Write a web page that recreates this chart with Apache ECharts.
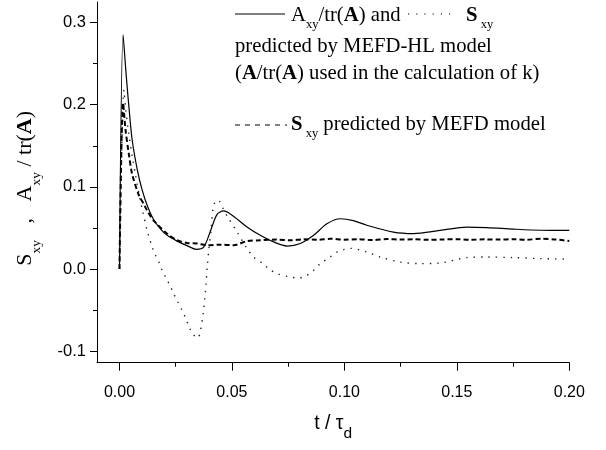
<!DOCTYPE html>
<html>
<head>
<meta charset="utf-8">
<title>Sxy MEFD</title>
<script src="https://cdn.jsdelivr.net/npm/echarts@6.0.0/dist/echarts.min.js"></script>
<style>
body{margin:0;background:#fff;}
#GraficoSxy{width:606px;height:450px;}
</style>
</head>
<body>
<div id="GraficoSxy"></div>
<script>
// A_xy/tr(A), MEFD-HL (linea continua)
var tiempoA = [0, 0.0016, 0.0027, 0.0034, 0.0041, 0.0056, 0.0079, 0.0100, 0.0125, 0.0152, 0.0185, 0.0212, 0.0256, 0.0300, 0.0342, 0.0375, 0.0404, 0.0434, 0.0463, 0.0508, 0.0567, 0.0626, 0.0685, 0.0745, 0.0804, 0.0863, 0.0922, 0.0981, 0.1040, 0.1100, 0.1218, 0.1307, 0.1425, 0.1544, 0.1633, 0.1751, 0.1870, 0.2000];
var valorA = [0, 0.285, 0.246, 0.222, 0.200, 0.158, 0.121, 0.097, 0.076, 0.060, 0.048, 0.041, 0.034, 0.0285, 0.0240, 0.027, 0.046, 0.0666, 0.0707, 0.0640, 0.0512, 0.041, 0.033, 0.0280, 0.031, 0.041, 0.0550, 0.0612, 0.0590, 0.0533, 0.0450, 0.0432, 0.0470, 0.0510, 0.0505, 0.0486, 0.0472, 0.0470];

// S_xy, MEFD-HL (punteada)
var tiempoSHL = [0, 0.0020, 0.0027, 0.0041, 0.0056, 0.0071, 0.0086, 0.0105, 0.0123, 0.0145, 0.0160, 0.0175, 0.0190, 0.0209, 0.0226, 0.0241, 0.0259, 0.0278, 0.0293, 0.0308, 0.0326, 0.0348, 0.0360, 0.0372, 0.0379, 0.0385, 0.0390, 0.0397, 0.0407, 0.0419, 0.0438, 0.0463, 0.0481, 0.0523, 0.0567, 0.0596, 0.0634, 0.0663, 0.0700, 0.0760, 0.0796, 0.0833, 0.0863, 0.0893, 0.0930, 0.0967, 0.0996, 0.1026, 0.1100, 0.1159, 0.1248, 0.1337, 0.1425, 0.1544, 0.1633, 0.1751, 0.1870, 0.1990];
var valorSHL = [0, 0.218, 0.196, 0.165, 0.138, 0.115, 0.092, 0.068, 0.047, 0.027, 0.0167, 0.0085, -0.0016, -0.0117, -0.021, -0.030, -0.040, -0.050, -0.059, -0.0695, -0.079, -0.084, -0.075, -0.054, -0.036, -0.018, 0.0024, 0.023, 0.047, 0.078, 0.084, 0.0724, 0.0634, 0.045, 0.025, 0.0146, 0.0073, 0.0005, -0.0056, -0.0098, -0.011, -0.0077, -0.0016, 0.0066, 0.0134, 0.0207, 0.0236, 0.0252, 0.0207, 0.0146, 0.0085, 0.0066, 0.0073, 0.0139, 0.0146, 0.0139, 0.0127, 0.0122];

// S_xy, MEFD (discontinua)
var tiempoS = [0, 0.0016, 0.0027, 0.0041, 0.0056, 0.0086, 0.0108, 0.0123, 0.0152, 0.0212, 0.0256, 0.0300, 0.0345, 0.0390, 0.0449, 0.0508, 0.0567, 0.0626, 0.0700, 0.0760, 0.0818, 0.0880, 0.0937, 0.1000, 0.1060, 0.1125, 0.1190, 0.1250, 0.1310, 0.1375, 0.1440, 0.1500, 0.1560, 0.1625, 0.1690, 0.1750, 0.1810, 0.1875, 0.1940, 0.2000];
var valorS = [0, 0.202, 0.169, 0.141, 0.116, 0.090, 0.079, 0.071, 0.059, 0.043, 0.035, 0.0317, 0.031, 0.029, 0.0297, 0.029, 0.034, 0.035, 0.0358, 0.0350, 0.0362, 0.0356, 0.0368, 0.0357, 0.0363, 0.0352, 0.0366, 0.0358, 0.0362, 0.0355, 0.0360, 0.0364, 0.0356, 0.0361, 0.0358, 0.0363, 0.0357, 0.0368, 0.0360, 0.0340];

var ticksX = [0, 0.05, 0.10, 0.15, 0.20];
var ticksXMenor = [0.025, 0.075, 0.125, 0.175];
var ticksY = [-0.1, 0, 0.1, 0.2, 0.3];
var ticksYMenor = [-0.05, 0.05, 0.15, 0.25];

function pares(t, v)
{
	var d = [];
	for (var i = 0; i < t.length; i++) {
		d.push([t[i], v[i]]);
	}
	return d;
}

var serif = '"Liberation Serif", "Times New Roman", serif';
var sans = '"Liberation Sans", Arial, sans-serif';
var negro = '#000';
var fLeyenda = 20.7;

var richLeyenda = {
	s: {fontSize: 12.5, fontFamily: serif, color: negro, fill: negro, padding: [18, 0, 0, 0], lineHeight: 24},
	b: {fontSize: fLeyenda, fontFamily: serif, fontWeight: 'bold', color: negro, fill: negro, lineHeight: 24}
};
var richTituloY = {
	s: {fontSize: 13.5, fontFamily: serif, color: negro, padding: [21, 0, 0, 0], lineHeight: 27},
	b: {fontSize: 22, fontFamily: serif, fontWeight: 'bold', color: negro, lineHeight: 27}
};

var dom = document.getElementById("GraficoSxy");
var myChart = echarts.init(dom);
var option = null;
option = {
	animation: false,
	backgroundColor: '#fff',
	grid: {left: 97, right: 36.7, top: 2, bottom: 87.3, containLabel: false},
	xAxis: [
		{
			type: 'value', min: -0.01, max: 0.2, position: 'bottom',
			name: 't / τ{d|d}', nameLocation: 'middle', nameGap: 47,
			nameTextStyle: {fontFamily: sans, fontSize: 19.5, color: negro, lineHeight: 24,
				rich: {d: {fontFamily: sans, fontSize: 15.5, color: negro, lineHeight: 24, padding: [20, 0, 0, 0]}}},
			axisLine: {show: true, onZero: false, lineStyle: {color: negro, width: 1}},
			axisTick: {show: true, customValues: ticksX, length: 8, lineStyle: {color: negro, width: 1}},
			axisLabel: {customValues: ticksX, margin: 22, fontFamily: sans, fontSize: 16, color: negro,
				formatter: function (v) { return v.toFixed(2); }},
			splitLine: {show: false}
		},
		{
			type: 'value', min: -0.01, max: 0.2, position: 'bottom',
			axisLine: {show: false, onZero: false},
			axisTick: {show: true, customValues: ticksXMenor, length: 4, lineStyle: {color: negro, width: 1}},
			axisLabel: {show: false},
			splitLine: {show: false}
		}
	],
	yAxis: [
		{
			type: 'value', min: -0.114, max: 0.325, position: 'left',
			name: 'S{s|xy}   ,   A{s|xy} / tr({b|A})', nameLocation: 'middle', nameRotate: 90, nameGap: 58,
			nameTextStyle: {fontFamily: serif, fontSize: 22, color: negro, lineHeight: 27, rich: richTituloY, padding: [0, 12, 0, 0]},
			axisLine: {show: true, onZero: false, lineStyle: {color: negro, width: 1}},
			axisTick: {show: true, customValues: ticksY, length: 7, lineStyle: {color: negro, width: 1}},
			axisLabel: {customValues: ticksY, margin: 11, fontFamily: sans, fontSize: 16.5, color: negro,
				formatter: function (v) { return v.toFixed(1); }},
			splitLine: {show: false}
		},
		{
			type: 'value', min: -0.114, max: 0.325, position: 'left',
			axisLine: {show: false, onZero: false},
			axisTick: {show: true, customValues: ticksYMenor, length: 4, lineStyle: {color: negro, width: 1}},
			axisLabel: {show: false},
			splitLine: {show: false}
		}
	],
	series: [
		{
			name: 'Axy/tr(A) MEFD-HL', type: 'line', xAxisIndex: 0, yAxisIndex: 0,
			data: pares(tiempoA, valorA), showSymbol: false, smooth: 0.3,
			lineStyle: {color: negro, width: 1.2, type: 'solid'}
		},
		{
			name: 'Sxy MEFD-HL', type: 'line', xAxisIndex: 0, yAxisIndex: 0,
			data: pares(tiempoSHL, valorSHL), showSymbol: false, smooth: 0.3,
			lineStyle: {color: '#222', width: 1.4, type: [1.4, 6]}
		},
		{
			name: 'Sxy MEFD', type: 'line', xAxisIndex: 0, yAxisIndex: 0,
			data: pares(tiempoS, valorS), showSymbol: false, smooth: 0.3,
			lineStyle: {color: negro, width: 2, type: [5, 3]}
		}
	],
	graphic: [
		{type: 'line', shape: {x1: 235, y1: 14, x2: 285, y2: 14}, style: {stroke: negro, lineWidth: 1}},
		{type: 'text', x: 291, y: 16, style: {text: 'A{s|xy}/tr({b|A}) and', fontSize: fLeyenda, fontFamily: serif, fill: negro,
			verticalAlign: 'middle', lineHeight: 24, rich: richLeyenda}},
		{type: 'line', shape: {x1: 408, y1: 14, x2: 457, y2: 14}, style: {stroke: negro, lineWidth: 1, lineDash: [1.2, 7]}},
		{type: 'text', x: 466, y: 16, style: {text: '{b|S}{s| xy}', fontSize: fLeyenda, fontFamily: serif, fill: negro,
			verticalAlign: 'middle', lineHeight: 24, rich: richLeyenda}},
		{type: 'text', x: 235, y: 46.5, style: {text: 'predicted by MEFD-HL model', fontSize: fLeyenda, fontFamily: serif, fill: negro,
			verticalAlign: 'middle'}},
		{type: 'text', x: 235, y: 73.5, style: {text: '({b|A}/tr({b|A}) used in the calculation of k)', fontSize: fLeyenda, fontFamily: serif, fill: negro,
			verticalAlign: 'middle', lineHeight: 24, rich: richLeyenda}},
		{type: 'line', shape: {x1: 235, y1: 125, x2: 287, y2: 125}, style: {stroke: negro, lineWidth: 1, lineDash: [5, 5]}},
		{type: 'text', x: 291, y: 125, style: {text: '{b|S}{s| xy} predicted by MEFD model', fontSize: fLeyenda, fontFamily: serif, fill: negro,
			verticalAlign: 'middle', lineHeight: 24, rich: richLeyenda}}
	]
};
if (option && typeof option === "object")
{
	myChart.setOption(option, true);
}
</script>
</body>
</html>
